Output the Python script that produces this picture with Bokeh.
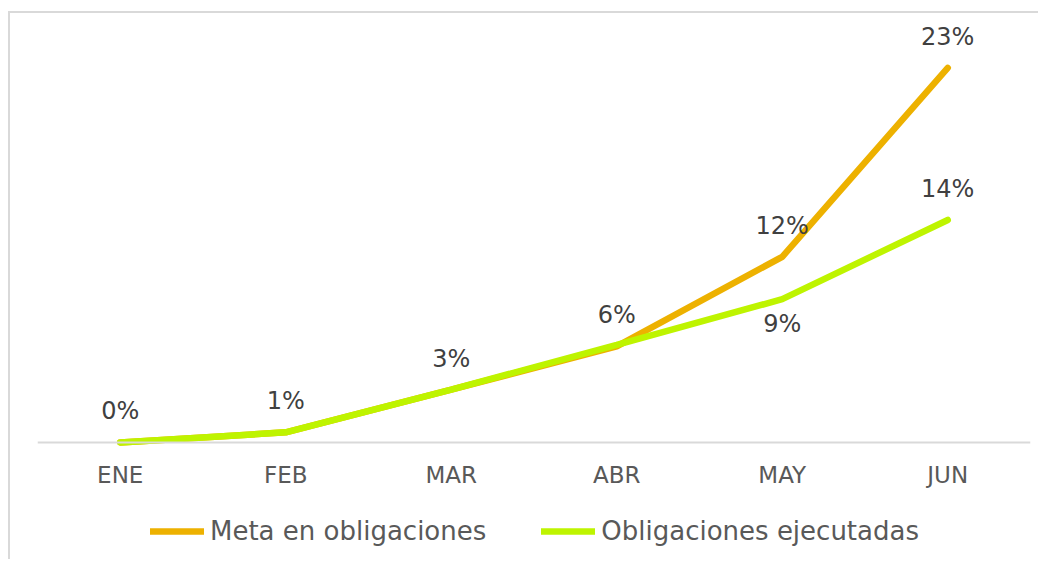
from bokeh.plotting import figure
from bokeh.models import ColumnDataSource, Range1d, Legend, LegendItem
from bokeh.core.properties import value
from bokeh.embed import file_html
from bokeh.resources import INLINE

months = ["ENE", "FEB", "MAR", "ABR", "MAY", "JUN"]
meta = [0.0, 0.0063, 0.033, 0.060, 0.116, 0.234]
ejecutadas = [0.0, 0.0063, 0.033, 0.061, 0.0895, 0.139]
meta_labels = ["0%", "1%", "3%", "6%", "12%", "23%"]
ejec_labels = ["9%", "14%"]
ejec_label_months = ["MAY", "JUN"]
ejec_label_values = [0.0895, 0.139]

FONT = "DejaVu Sans"
ORANGE = "#EDB100"
GREEN = "#BEF400"

p = figure(x_range=months, y_range=Range1d(-0.0744, 0.268),
           width=1030, height=548,
           min_border_left=27, min_border_right=10, min_border_top=0, min_border_bottom=0,
           output_backend="svg", toolbar_location=None,
           styles={"border-left": "2px solid #D9D9D9", "border-top": "2px solid #D9D9D9",
                   "margin-top": "11px", "margin-left": "8px"})
p.x_range.range_padding = 0
p.outline_line_color = None
p.grid.visible = False
p.yaxis.visible = False

ax = p.xaxis[0]
ax.fixed_location = 0
ax.axis_line_color = "#D9D9D9"
ax.axis_line_width = 2
ax.major_tick_line_color = None
ax.minor_tick_line_color = None
ax.major_tick_out = 0
ax.major_tick_in = 0
ax.major_label_text_font = FONT
ax.major_label_text_font_size = "23px"
ax.major_label_text_color = "#595959"
ax.major_label_standoff = 20

src_m = ColumnDataSource(dict(x=months, y=meta, lab=meta_labels))
src_e = ColumnDataSource(dict(x=months, y=ejecutadas))
src_el = ColumnDataSource(dict(x=ejec_label_months, y=ejec_label_values, lab=ejec_labels,
                               off=[25, -31]))

r1 = p.line("x", "y", source=src_m, line_color=ORANGE, line_width=6.5, line_cap="round")
r2 = p.line("x", "y", source=src_e, line_color=GREEN, line_width=6.5, line_cap="round")

p.text("x", "y", text="lab", source=src_m, text_font=value(FONT), text_font_size="24px",
       text_color="#404040", text_align="center", text_baseline="middle", y_offset=-31)
p.text("x", "y", text="lab", source=src_el, text_font=value(FONT), text_font_size="24px",
       text_color="#404040", text_align="center", text_baseline="middle", y_offset="off")

legend = Legend(items=[LegendItem(label="Meta en obligaciones", renderers=[r1]),
                       LegendItem(label="Obligaciones ejecutadas", renderers=[r2])],
                orientation="horizontal", location=(113, 15))
legend.border_line_color = None
legend.background_fill_alpha = 0
legend.label_text_font = FONT
legend.label_text_font_size = "26px"
legend.label_text_color = "#595959"
legend.glyph_width = 54
legend.label_standoff = 6
legend.spacing = 55
legend.padding = 0
legend.margin = 0
p.add_layout(legend)

open("out.html", "w").write(file_html(p, INLINE))
